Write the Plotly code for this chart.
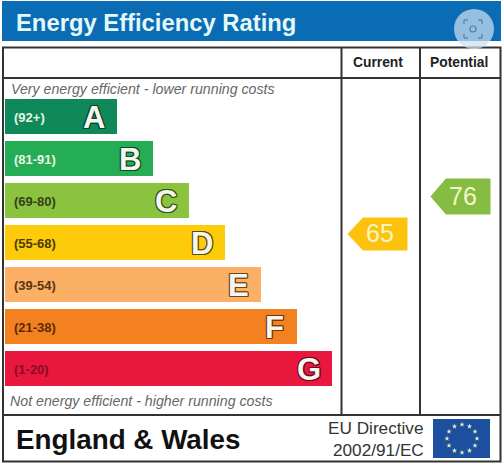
import math
import plotly.graph_objects as go

W, H = 503, 463
FONT = 'Liberation Sans'

# EPC bands
bands = ['A', 'B', 'C', 'D', 'E', 'F', 'G']
band_ranges = ['(92+)', '(81-91)', '(69-80)', '(55-68)', '(39-54)', '(21-38)', '(1-20)']
band_lengths = [112, 148, 184, 220, 256, 292, 327]
band_colors = ['#10895a', '#25ad55', '#8bc340', '#fdcb0a', '#fbb066', '#f4811f', '#e9173d']
range_colors = ['#e6f6e6', '#e6f6e6', '#33401a', '#4a3a05', '#5a3510', '#5a2a08', '#8a0c26']
letter_edges = ['#07402a', '#0c4a26', '#33520f', '#5e4c00', '#6e4518', '#703508', '#6a0820']

# ratings
columns = ['Current', 'Potential']
ratings = [65, 76]
rating_colors = ['#fdc20e', '#84bd41']


def py(y):
    # pixel row to paper fraction
    return 1 - y / H


def rating_y(value, dy):
    # shift a rating by some pixels on the rating axis (3.41 px per point)
    return value - dy / 3.41


fig = go.Figure()

fig.add_trace(go.Bar(y=bands, x=band_lengths, base=5, orientation='h', width=35 / 42,
                     marker=dict(color=band_colors, line=dict(width=0)), hoverinfo='skip'))

# rating pointers
pointer_left = {'Current': 348, 'Potential': 431}
for col, val, colr in zip(columns, ratings, rating_colors):
    left = pointer_left[col]
    xs = [left, left + 15, left + 59, left + 59, left + 15, left]
    half = 16 if col == 'Current' else 17.5
    ys = [rating_y(val, d) for d in [0, -half, -half, half, half, 0]]
    fig.add_trace(go.Scatter(x=xs, y=ys, yaxis='y2', mode='lines', fill='toself', fillcolor=colr,
                             line=dict(color=colr, width=1), hoverinfo='skip'))
    fig.add_trace(go.Scatter(x=[left + 32], y=[rating_y(val, 2)], yaxis='y2', mode='text', text=[str(val)],
                             textposition='middle center', hoverinfo='skip',
                             textfont=dict(family=FONT, size=25, color='#f4f6c8')))

# EU flag stars
star_x = [462 + 15 * math.sin(i * math.pi / 6) for i in range(12)]
star_y = [py(438.5 - 14 * math.cos(i * math.pi / 6)) for i in range(12)]
fig.add_trace(go.Scatter(x=star_x, y=star_y, yaxis='y3', mode='markers', hoverinfo='skip',
                         marker=dict(symbol='star', size=4, color='#e8efc0')))

shapes = []


def rect(x0, y0, x1, y1, fill=None, line=None, width=0):
    shapes.append(dict(type='rect', xref='x', yref='paper', x0=x0, x1=x1, y0=py(y0), y1=py(y1),
                       fillcolor=fill or 'rgba(0,0,0,0)', line=dict(color=line or 'rgba(0,0,0,0)', width=width),
                       layer='below'))


def hline(x0, x1, y):
    shapes.append(dict(type='line', xref='x', yref='paper', x0=x0, x1=x1, y0=py(y), y1=py(y),
                       line=dict(color='#333333', width=2), layer='below'))


def vline(x, y0, y1):
    shapes.append(dict(type='line', xref='x', yref='paper', x0=x, x1=x, y0=py(y0), y1=py(y1),
                       line=dict(color='#333333', width=2), layer='below'))


rect(2, 1, 501, 41, fill='#0a6cb5')
rect(3, 47.5, 500.5, 461.5, line='#333333', width=2)
hline(3, 500, 78)
hline(3, 500, 415)
vline(341.5, 47, 415)
vline(420, 47, 415)
rect(433, 419, 490, 458, fill='#1c4f9e')

# lens badge from the screenshot
shapes.append(dict(type='circle', xref='x', yref='paper', x0=454, x1=494, y0=py(9), y1=py(49),
                   fillcolor='rgba(205,222,240,0.72)', line=dict(width=0)))
shapes.append(dict(type='circle', xref='x', yref='paper', x0=470, x1=476, y0=py(26), y1=py(32),
                   line=dict(color='#4f7fb0', width=1.2)))
for sx, sy in [(-1, -1), (1, -1), (-1, 1), (1, 1)]:
    cx, cy = 473 + sx * 9, 29 + sy * 9
    shapes.append(dict(type='line', xref='x', yref='paper', x0=cx, x1=cx - sx * 4, y0=py(cy), y1=py(cy),
                       line=dict(color='#4f7fb0', width=1.2)))
    shapes.append(dict(type='line', xref='x', yref='paper', x0=cx, x1=cx, y0=py(cy), y1=py(cy - sy * 4),
                       line=dict(color='#4f7fb0', width=1.2)))

annotations = []


def label(x, y, text, size, color, anchor='left', bold=False, italic=False):
    annotations.append(dict(x=x, y=py(y), xref='x', yref='paper', text=text, showarrow=False,
                            xanchor=anchor, yanchor='middle',
                            font=dict(family=FONT, size=size, color=color,
                                      weight='bold' if bold else 'normal',
                                      style='italic' if italic else 'normal')))


label(14, 22, 'Energy Efficiency Rating', 23.8, '#e4f8f8', bold=True)
label(377.5, 62, 'Current', 13.8, '#222222', anchor='center', bold=True)
label(458.5, 62, 'Potential', 13.8, '#222222', anchor='center', bold=True)
label(9, 89, 'Very energy efficient - lower running costs', 14.2, '#666666', italic=True)
label(8, 401, 'Not energy efficient - higher running costs', 14.2, '#666666', italic=True)
label(14, 439, 'England &amp; Wales', 27.8, '#111111', bold=True)
label(426, 428, 'EU Directive', 17.2, '#333333', anchor='right')
label(426, 450, '2002/91/EC', 17.2, '#333333', anchor='right')

# band range labels and letters, the letters white with a dark edge
for band, length, rng, rng_color, edge in zip(bands, band_lengths, band_ranges, range_colors, letter_edges):
    annotations.append(dict(x=12, y=band, xref='x', yref='y', text=rng, showarrow=False,
                            xanchor='left', yanchor='middle', yshift=-1.5,
                            font=dict(family=FONT, size=13, weight='bold', color=rng_color)))
    shadow = ','.join(f'{a}px {b}px 0 {edge}' for a in (-1, 0, 1) for b in (-1, 0, 1) if a or b)
    annotations.append(dict(x=length - 18, y=band, xref='x', yref='y', text=band, showarrow=False,
                            xanchor='center', yanchor='middle', yshift=-1.5,
                            font=dict(family=FONT, size=31, weight='bold', color='#f6f6f0', shadow=shadow)))

fig.update_layout(
    width=W, height=H, margin=dict(l=0, r=0, t=0, b=0),
    paper_bgcolor='white', plot_bgcolor='rgba(0,0,0,0)',
    showlegend=False, bargap=0,
    shapes=shapes, annotations=annotations,
    xaxis=dict(range=[0, W], domain=[0, 1], visible=False, fixedrange=True),
    yaxis=dict(type='category', categoryorder='array', categoryarray=bands, autorange=False,
               range=[6.5, -0.5], domain=[py(388.5), py(94.5)], visible=False, fixedrange=True),
    # rating scale lined up with the band rows
    yaxis2=dict(range=[rating_y(65, 229), rating_y(65, -234)], domain=[0, 1], anchor='x',
                visible=False, fixedrange=True),
    yaxis3=dict(range=[0, 1], domain=[0, 1], anchor='x', visible=False, fixedrange=True),
)

# the page's default body margin would push the figure out of the window
fig.write_html("out.html", config={'displayModeBar': False},
               post_script="document.body.style.margin='0';")
